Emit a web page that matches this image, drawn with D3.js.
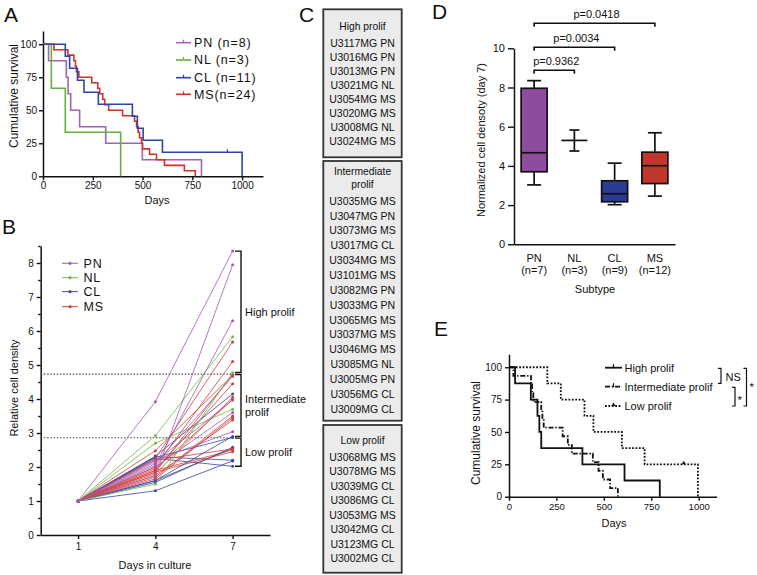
<!DOCTYPE html>
<html><head><meta charset="utf-8">
<script src="https://cdn.jsdelivr.net/npm/d3@7"></script>
<style>
body{margin:0;background:#fff}
svg{display:block}
text{font-family:"Liberation Sans",Arial,Helvetica,sans-serif;fill:#111}
</style>
</head><body>
<svg id="chart" width="757" height="575"></svg>
<script>
// ---------------- DATA ----------------
// Panel A: Kaplan-Meier by subtype (days, % survival)
const subtypes = ["PN", "NL", "CL", "MS"];
const aLegend = ["PN (n=8)", "NL (n=3)", "CL (n=11)", "MS(n=24)"];
const aPN_t = [0, 28, 117, 126, 139, 184, 315, 499, 796];
const aPN_s = [100, 87.5, 75, 62.5, 50, 37.5, 25, 12.5, 0];
const aNL_t = [0, 42, 112, 390];
const aNL_s = [100, 66.7, 33.3, 0];
const aCL_t = [0, 112, 134, 173, 206, 278, 449, 474, 503, 600, 1000];
const aCL_s = [100, 90.9, 81.8, 72.7, 63.6, 54.5, 45.5, 36.4, 27.3, 18.2, 0];
const aCL_censor_t = [926];
const aCL_censor_s = [18.2];
const aMS_t = [0, 55, 125, 155, 163, 168, 180, 245, 275, 285, 300, 310, 330, 400, 460, 470, 478, 485, 495, 500, 535, 570, 610, 710, 765];
const aMS_s = [100, 95.8, 91.7, 87.5, 83.3, 79.2, 75, 70.8, 66.7, 62.5, 58.3, 54.2, 50, 45.8, 41.7, 37.5, 33.3, 29.2, 25, 20.8, 16.7, 12.5, 8.3, 4.2, 0];
const aXTicks = [0, 250, 500, 750, 1000];
const aYTicks = [0, 25, 50, 75, 100];

// Panel B: relative cell density per cell line
const bDays = [1, 4, 7];
const bNames = ["U3117MG","U3016MG","U3013MG","U3021MG","U3054MG","U3020MG","U3008MG","U3024MG",
  "U3035MG","U3047MG","U3073MG","U3017MG","U3034MG","U3101MG","U3082MG","U3033MG","U3065MG","U3037MG","U3046MG","U3085MG","U3005MG","U3056MG","U3009MG",
  "U3068MG","U3078MG","U3039MG","U3086MG","U3053MG","U3042MG","U3123MG","U3002MG"];
const bSubtype = ["PN","PN","PN","NL","MS","MS","NL","MS",
  "MS","PN","MS","CL","MS","MS","PN","PN","MS","MS","MS","NL","PN","CL","CL",
  "MS","MS","CL","CL","MS","CL","CL","CL"];
const bDay1 = [1,1,1,1,1,1,1,1, 1,1,1,1,1,1,1,1,1,1,1,1,1,1,1, 1,1,1,1,1,1,1,1];
const bDay4 = [3.92,1.75,2.05,2.92,2.25,2.0,1.5,1.85,
  2.48,2.1,1.9,2.32,1.8,1.95,2.15,2.0,1.7,1.65,1.75,2.7,2.2,1.6,2.28,
  2.2,1.85,1.55,1.6,1.9,2.3,1.3,2.25];
const bDay7 = [8.35,7.95,6.3,5.83,5.68,5.1,4.77,4.72,
  4.7,4.66,4.45,4.15,4.05,3.98,3.97,3.6,3.5,3.45,3.38,3.7,3.04,2.9,2.87,
  2.53,2.45,2.58,2.55,2.5,2.2,2.18,2.02];
const bYMajor = [0,1,2,3,4,5,6,7,8];
const bYTicks = [0,0.5,1,1.5,2,2.5,3,3.5,4,4.5,5,5.5,6,6.5,7,7.5,8,8.5];
const bThresholds = [4.73, 2.86];
const bGroups = ["High prolif", "Intermediate\nprolif", "Low prolif"];
const bGroupTop = [8.35, 4.72, 2.85];
const bGroupBottom = [4.78, 2.9, 2.02];

// Panel C: cell line lists
const cHigh = ["U3117MG PN","U3016MG PN","U3013MG PN","U3021MG NL","U3054MG MS","U3020MG MS","U3008MG NL","U3024MG MS"];
const cIntermediate = ["U3035MG MS","U3047MG PN","U3073MG MS","U3017MG CL","U3034MG MS","U3101MG MS","U3082MG PN","U3033MG PN","U3065MG MS","U3037MG MS","U3046MG MS","U3085MG NL","U3005MG PN","U3056MG CL","U3009MG CL"];
const cLow = ["U3068MG MS","U3078MG MS","U3039MG CL","U3086MG CL","U3053MG MS","U3042MG CL","U3123MG CL","U3002MG CL"];

// Panel D: box plots of day-7 normalized density
const dCats = ["PN", "NL", "CL", "MS"];
const dN = ["(n=7)", "(n=3)", "(n=9)", "(n=12)"];
const dMin = [3.03, 4.76, 2.02, 2.46];
const dQ1 = [3.70, 4.76, 2.17, 3.10];
const dMed = [4.67, 5.30, 2.58, 4.01];
const dQ3 = [7.96, 5.83, 3.24, 4.70];
const dMax = [8.35, 5.83, 4.14, 5.69];
const dYTicks = [0, 2, 4, 6, 8, 10];
const dSigFrom = ["PN", "PN", "PN"];
const dSigTo = ["NL", "CL", "MS"];
const dSigLabel = ["p=0.9362", "p=0.0034", "p=0.0418"];

// Panel E: Kaplan-Meier by proliferation group
const eLegend = ["High prolif", "Intermediate prolif", "Low prolif"];
const eHigh_t = [0, 32, 115, 150, 160, 170, 387, 609, 795];
const eHigh_s = [100, 87.5, 75, 62.5, 50, 37.5, 25, 12.5, 0];
const eInt_t = [0, 23, 116, 122, 128, 170, 176, 183, 283, 310, 331, 442, 472, 495, 533, 574];
const eInt_s = [100, 93.3, 86.7, 80, 73.3, 66.7, 60, 53.3, 46.7, 40, 33.3, 26.7, 20, 13.3, 6.7, 0];
const eLow_t = [0, 202, 273, 398, 445, 595, 715, 996];
const eLow_s = [100, 87.5, 75, 62.5, 50, 37.5, 25, 0];
const eLow_censor_t = [921];
const eLow_censor_s = [25];
const eXTicks = [0, 250, 500, 750, 1000];
const eYTicks = [0, 25, 50, 75, 100];

// ---------------- STYLE ----------------
const colA = {PN:"#a262b5", NL:"#62b23a", CL:"#2e45a6", MS:"#d0312b"};
const colB = {PN:"#a35cb3", NL:"#73b84c", CL:"#3948a6", MS:"#d2413b"};
const colD = {PN:"#8d4c9e", NL:"#ffffff", CL:"#2b3a92", MS:"#c1372d"};
const FONT = '"Liberation Sans",Arial,sans-serif';
const fmtInt = d3.format("d");

const svg = d3.select("#chart");
svg.append("rect").attr("width",757).attr("height",575).attr("fill","#fff");

function styleAxis(g, fs){
  g.selectAll("path.domain").attr("stroke","#111").attr("stroke-width",1.5);
  g.selectAll(".tick line").attr("stroke","#111").attr("stroke-width",1.4);
  g.selectAll(".tick text").attr("font-size",fs).attr("font-family",FONT).attr("fill","#111");
}
function letter(t,x,y){ svg.append("text").attr("x",x).attr("y",y).attr("font-size",21).text(t); }
function kmLine(times, surv, x, y){
  return d3.line().x((d,i)=>x(times[i])).y((d,i)=>y(surv[i])).curve(d3.curveStepAfter)(times);
}

// ================= PANEL A =================
letter("A", 4, 22);
const xA = d3.scaleLinear().domain([0,1105]).range([43,263]);
const yA = d3.scaleLinear().domain([0,110]).range([176.3,31]);
const gAx = svg.append("g").attr("transform","translate(0,176.3)")
  .call(d3.axisBottom(xA).tickValues(aXTicks).tickFormat(fmtInt).tickSize(4).tickSizeOuter(0).tickPadding(2));
styleAxis(gAx,10);
const gAy = svg.append("g").attr("transform","translate(43,0)")
  .call(d3.axisLeft(yA).tickValues(aYTicks).tickFormat(fmtInt).tickSize(4).tickSizeOuter(0).tickPadding(2));
styleAxis(gAy,10);
svg.append("text").attr("x",157).attr("y",204).attr("text-anchor","middle").attr("font-size",11).text("Days");
svg.append("text").attr("transform","translate(18,96) rotate(-90)").attr("text-anchor","middle").attr("font-size",12).text("Cumulative survival");

const aCurves = [[aPN_t,aPN_s,"PN"],[aNL_t,aNL_s,"NL"],[aMS_t,aMS_s,"MS"],[aCL_t,aCL_s,"CL"]];
aCurves.forEach(c=>{
  svg.append("path").attr("d",kmLine(c[0],c[1],xA,yA)).attr("fill","none")
    .attr("stroke",colA[c[2]]).attr("stroke-width",1.6);
});
aCL_censor_t.forEach((t,i)=>{
  svg.append("line").attr("x1",xA(t)).attr("x2",xA(t)).attr("y1",yA(aCL_censor_s[i])-3).attr("y2",yA(aCL_censor_s[i]))
    .attr("stroke",colA.CL).attr("stroke-width",1.2);
});
// legend A
const aLegY = [42.7, 60, 77.7, 94.3];
subtypes.forEach((s,i)=>{
  const y = aLegY[i];
  svg.append("line").attr("x1",176).attr("x2",191).attr("y1",y).attr("y2",y).attr("stroke",colA[s]).attr("stroke-width",1.6);
  svg.append("line").attr("x1",183.5).attr("x2",183.5).attr("y1",y-3).attr("y2",y).attr("stroke",colA[s]).attr("stroke-width",1.2);
  svg.append("text").attr("x",194).attr("y",y+4.3).attr("font-size",12.5).attr("letter-spacing",0.9).text(aLegend[i]);
});

// ================= PANEL B =================
letter("B", 2, 234);
const xB = d3.scaleLinear().domain([-0.45,8.45]).range([40.7,270]);
const yB = d3.scaleLinear().domain([0,8.5]).range([535,246]);
const gBx = svg.append("g").attr("transform","translate(0,535)")
  .call(d3.axisBottom(xB).tickValues(bDays).tickSize(4).tickSizeOuter(0).tickPadding(4));
styleAxis(gBx,10);
const gBy = svg.append("g").attr("transform","translate(40.7,0)")
  .call(d3.axisLeft(yB).tickValues(bYTicks).tickSize(4).tickSizeOuter(0).tickPadding(3)
    .tickFormat(d=> bYMajor.includes(d) ? d : ""));
styleAxis(gBy,10);
gBy.selectAll(".tick").filter(d=>!bYMajor.includes(d)).select("line").attr("x2",-2.5);
svg.append("text").attr("x",155).attr("y",569).attr("text-anchor","middle").attr("font-size",11).text("Days in culture");
svg.append("text").attr("transform","translate(18,388) rotate(-90)").attr("text-anchor","middle").attr("font-size",11).text("Relative cell density");

// threshold dotted lines
bThresholds.forEach(v=>{
  svg.append("line").attr("x1",xB(-0.45)).attr("x2",xB(7)).attr("y1",yB(v)).attr("y2",yB(v))
    .attr("stroke","#555").attr("stroke-width",1.2).attr("stroke-dasharray","1.6,1.6");
});
// cell lines
const bLine = d3.line().x(d=>xB(d[0])).y(d=>yB(d[1]));
const order = d3.range(bNames.length).reverse();
order.forEach(i=>{
  const pts = [[bDays[0],bDay1[i]],[bDays[1],bDay4[i]],[bDays[2],bDay7[i]]];
  const c = colB[bSubtype[i]];
  svg.append("path").attr("d",bLine(pts)).attr("fill","none").attr("stroke",c).attr("stroke-width",0.9).attr("opacity",0.9);
  pts.forEach(p=>{
    svg.append("circle").attr("cx",xB(p[0])).attr("cy",yB(p[1])).attr("r",1.5).attr("fill",c);
  });
});
// brackets
const bx = 241;
bGroups.forEach((g,i)=>{
  const y1 = yB(bGroupTop[i]), y2 = yB(bGroupBottom[i]);
  svg.append("path").attr("d",`M${bx-6},${y1}H${bx}V${y2}H${bx-6}`).attr("fill","none").attr("stroke","#111").attr("stroke-width",1.4);
  const lines = g.split("\n");
  const mid = (y1+y2)/2;
  lines.forEach((t,j)=>{
    svg.append("text").attr("x",bx+4).attr("y", mid + 4 + (j-(lines.length-1)/2)*12.5)
      .attr("font-size",11).text(t);
  });
});
// legend B
const bLegY = [263.3, 277.7, 291.7, 306.7];
subtypes.forEach((s,i)=>{
  const y = bLegY[i];
  svg.append("line").attr("x1",62).attr("x2",78).attr("y1",y).attr("y2",y).attr("stroke",colB[s]).attr("stroke-width",1);
  svg.append("circle").attr("cx",70).attr("cy",y).attr("r",1.6).attr("fill",colB[s]);
  svg.append("text").attr("x",83.5).attr("y",y+4.5).attr("font-size",12.5).attr("letter-spacing",0.8).text(s);
});

// ================= PANEL C =================
letter("C", 299, 22);
const cx0 = 323.3, cx1 = 401.7, cMid = (cx0+cx1)/2;
function cBox(y0, y1, headers, headerY, names, nameY0, step){
  svg.append("rect").attr("x",cx0).attr("y",y0).attr("width",cx1-cx0).attr("height",y1-y0)
    .attr("fill","#ebebeb").attr("stroke","#333").attr("stroke-width",1.8);
  headers.forEach((h,j)=>{
    svg.append("text").attr("x",cMid).attr("y",headerY[j]+3.7).attr("text-anchor","middle").attr("font-size",10.3).text(h);
  });
  names.forEach((n,j)=>{
    svg.append("text").attr("x",cMid).attr("y",nameY0+j*step+3.7).attr("text-anchor","middle").attr("font-size",10.5).text(n);
  });
}
cBox(9.3, 157.3, ["High prolif"], [26.7], cHigh, 43.3, 14.06);
cBox(161, 420.7, ["Intermediate","prolif"], [171.7,184.3], cIntermediate, 201, 14.86);
cBox(425, 572.7, ["Low prolif"], [440.7], cLow, 457.3, 14.43);

// ================= PANEL D =================
letter("D", 432, 19);
const xD = d3.scalePoint().domain(dCats).range([514,675]).padding(0.5);
const yD = d3.scaleLinear().domain([0,10]).range([244.3,48.3]);
const gDx = svg.append("g").attr("transform","translate(0,244.3)")
  .call(d3.axisBottom(xD).tickSize(0).tickSizeOuter(0).tickFormat(""));
styleAxis(gDx,11);
const gDy = svg.append("g").attr("transform","translate(514,0)")
  .call(d3.axisLeft(yD).tickValues(dYTicks).tickSize(6).tickSizeOuter(0).tickPadding(3));
styleAxis(gDy,11);
dCats.forEach((c,i)=>{
  svg.append("text").attr("x",xD(c)).attr("y",262).attr("text-anchor","middle").attr("font-size",11).text(c);
  svg.append("text").attr("x",xD(c)).attr("y",274).attr("text-anchor","middle").attr("font-size",11).text(dN[i]);
});
svg.append("text").attr("x",595).attr("y",293).attr("text-anchor","middle").attr("font-size",11).text("Subtype");
svg.append("text").attr("transform","translate(485,140) rotate(-90)").attr("text-anchor","middle").attr("font-size",11).text("Normalized cell densoty (day 7)");
const hw = 13, cap = 7;
dCats.forEach((c,i)=>{
  const x = xD(c);
  const hasBox = colD[c] !== "#ffffff";
  const g = svg.append("g").attr("stroke","#111").attr("stroke-width",1.7).attr("fill","none");
  if(hasBox){
    g.append("line").attr("x1",x).attr("x2",x).attr("y1",yD(dMax[i])).attr("y2",yD(dQ3[i]));
    g.append("line").attr("x1",x).attr("x2",x).attr("y1",yD(dQ1[i])).attr("y2",yD(dMin[i]));
    g.append("rect").attr("x",x-hw).attr("y",yD(dQ3[i])).attr("width",2*hw).attr("height",yD(dQ1[i])-yD(dQ3[i]))
      .attr("fill",colD[c]);
    g.append("line").attr("x1",x-cap).attr("x2",x+cap).attr("y1",yD(dMax[i])).attr("y2",yD(dMax[i]));
    g.append("line").attr("x1",x-cap).attr("x2",x+cap).attr("y1",yD(dMin[i])).attr("y2",yD(dMin[i]));
  } else {
    g.append("line").attr("x1",x).attr("x2",x).attr("y1",yD(dMax[i])).attr("y2",yD(dMin[i]));
    g.append("line").attr("x1",x-5).attr("x2",x+5).attr("y1",yD(dMax[i])).attr("y2",yD(dMax[i]));
    g.append("line").attr("x1",x-5).attr("x2",x+5).attr("y1",yD(dMin[i])).attr("y2",yD(dMin[i]));
  }
  g.append("line").attr("x1",x-hw).attr("x2",x+hw).attr("y1",yD(dMed[i])).attr("y2",yD(dMed[i]));
});
const sigYpx = [70.3, 47.3, 23.3];
dSigLabel.forEach((lab,i)=>{
  const x1 = xD(dSigFrom[i]), x2 = xD(dSigTo[i]), y = sigYpx[i];
  svg.append("path").attr("d",`M${x1},${y+3.5}V${y}H${x2}V${y+3.5}`).attr("fill","none").attr("stroke","#111").attr("stroke-width",1.6);
  svg.append("text").attr("x",(x1+x2)/2+2).attr("y",y-5.5).attr("text-anchor","middle").attr("font-size",11).text(lab);
});

// ================= PANEL E =================
letter("E", 434, 336);
const xE = d3.scaleLinear().domain([0,1095]).range([509,716.7]);
const yE = d3.scaleLinear().domain([0,110]).range([496.7,354.3]);
const gEx = svg.append("g").attr("transform","translate(0,496.7)")
  .call(d3.axisBottom(xE).tickValues(eXTicks).tickFormat(fmtInt).tickSize(4).tickSizeOuter(0).tickPadding(3));
styleAxis(gEx,9.5);
const gEy = svg.append("g").attr("transform","translate(509,0)")
  .call(d3.axisLeft(yE).tickValues(eYTicks).tickFormat(fmtInt).tickSize(4).tickSizeOuter(0).tickPadding(3));
styleAxis(gEy,10);
svg.append("text").attr("x",614).attr("y",527).attr("text-anchor","middle").attr("font-size",11).text("Days");
svg.append("text").attr("transform","translate(480,433) rotate(-90)").attr("text-anchor","middle").attr("font-size",12).text("Cumulative survival");
const eDash = ["", "5,1.8,1.4,1.8", "1.8,1.6"];
const eCurves = [[eLow_t,eLow_s],[eInt_t,eInt_s],[eHigh_t,eHigh_s]];
const eDashOrder = [2,1,0];
eCurves.forEach((c,k)=>{
  svg.append("path").attr("d",kmLine(c[0],c[1],xE,yE)).attr("fill","none")
    .attr("stroke","#111").attr("stroke-width",1.8).attr("stroke-dasharray",eDash[eDashOrder[k]]);
});
eLow_censor_t.forEach((t,i)=>{
  const x = xE(t), y = yE(eLow_censor_s[i]);
  svg.append("path").attr("d",`M${x-2},${y}L${x},${y-3.5}L${x+2},${y}Z`).attr("fill","#111");
});
// legend E
const eLegY = [367.7, 386.7, 406];
eLegend.forEach((t,i)=>{
  const y = eLegY[i];
  svg.append("line").attr("x1",605).attr("x2",622).attr("y1",y).attr("y2",y).attr("stroke","#111")
    .attr("stroke-width",1.8).attr("stroke-dasharray",eDash[i]);
  if(i<2){
    svg.append("line").attr("x1",613.5).attr("x2",613.5).attr("y1",y-3.5).attr("y2",y+0.5).attr("stroke","#111").attr("stroke-width",1.2);
  } else {
    svg.append("path").attr("d",`M611.5,${y}L613.5,${y-3.5}L615.5,${y}Z`).attr("fill","#111");
  }
  svg.append("text").attr("x",624.5).attr("y",y+4).attr("font-size",11).text(t);
});
// significance brackets E
function eBr(x, y1, y2){
  svg.append("path").attr("d",`M${x-3},${y1}H${x}V${y2}H${x-3}`).attr("fill","none").attr("stroke","#111").attr("stroke-width",1.2);
}
eBr(721, 368.3, 383.3);
svg.append("text").attr("x",725.5).attr("y",381).attr("font-size",11).text("NS");
eBr(735, 387.3, 406);
svg.append("text").attr("x",737.5).attr("y",404).attr("font-size",11.5).text("*");
eBr(746.5, 368.3, 406);
svg.append("text").attr("x",749.5).attr("y",391).attr("font-size",11.5).text("*");
</script>
</body></html>
